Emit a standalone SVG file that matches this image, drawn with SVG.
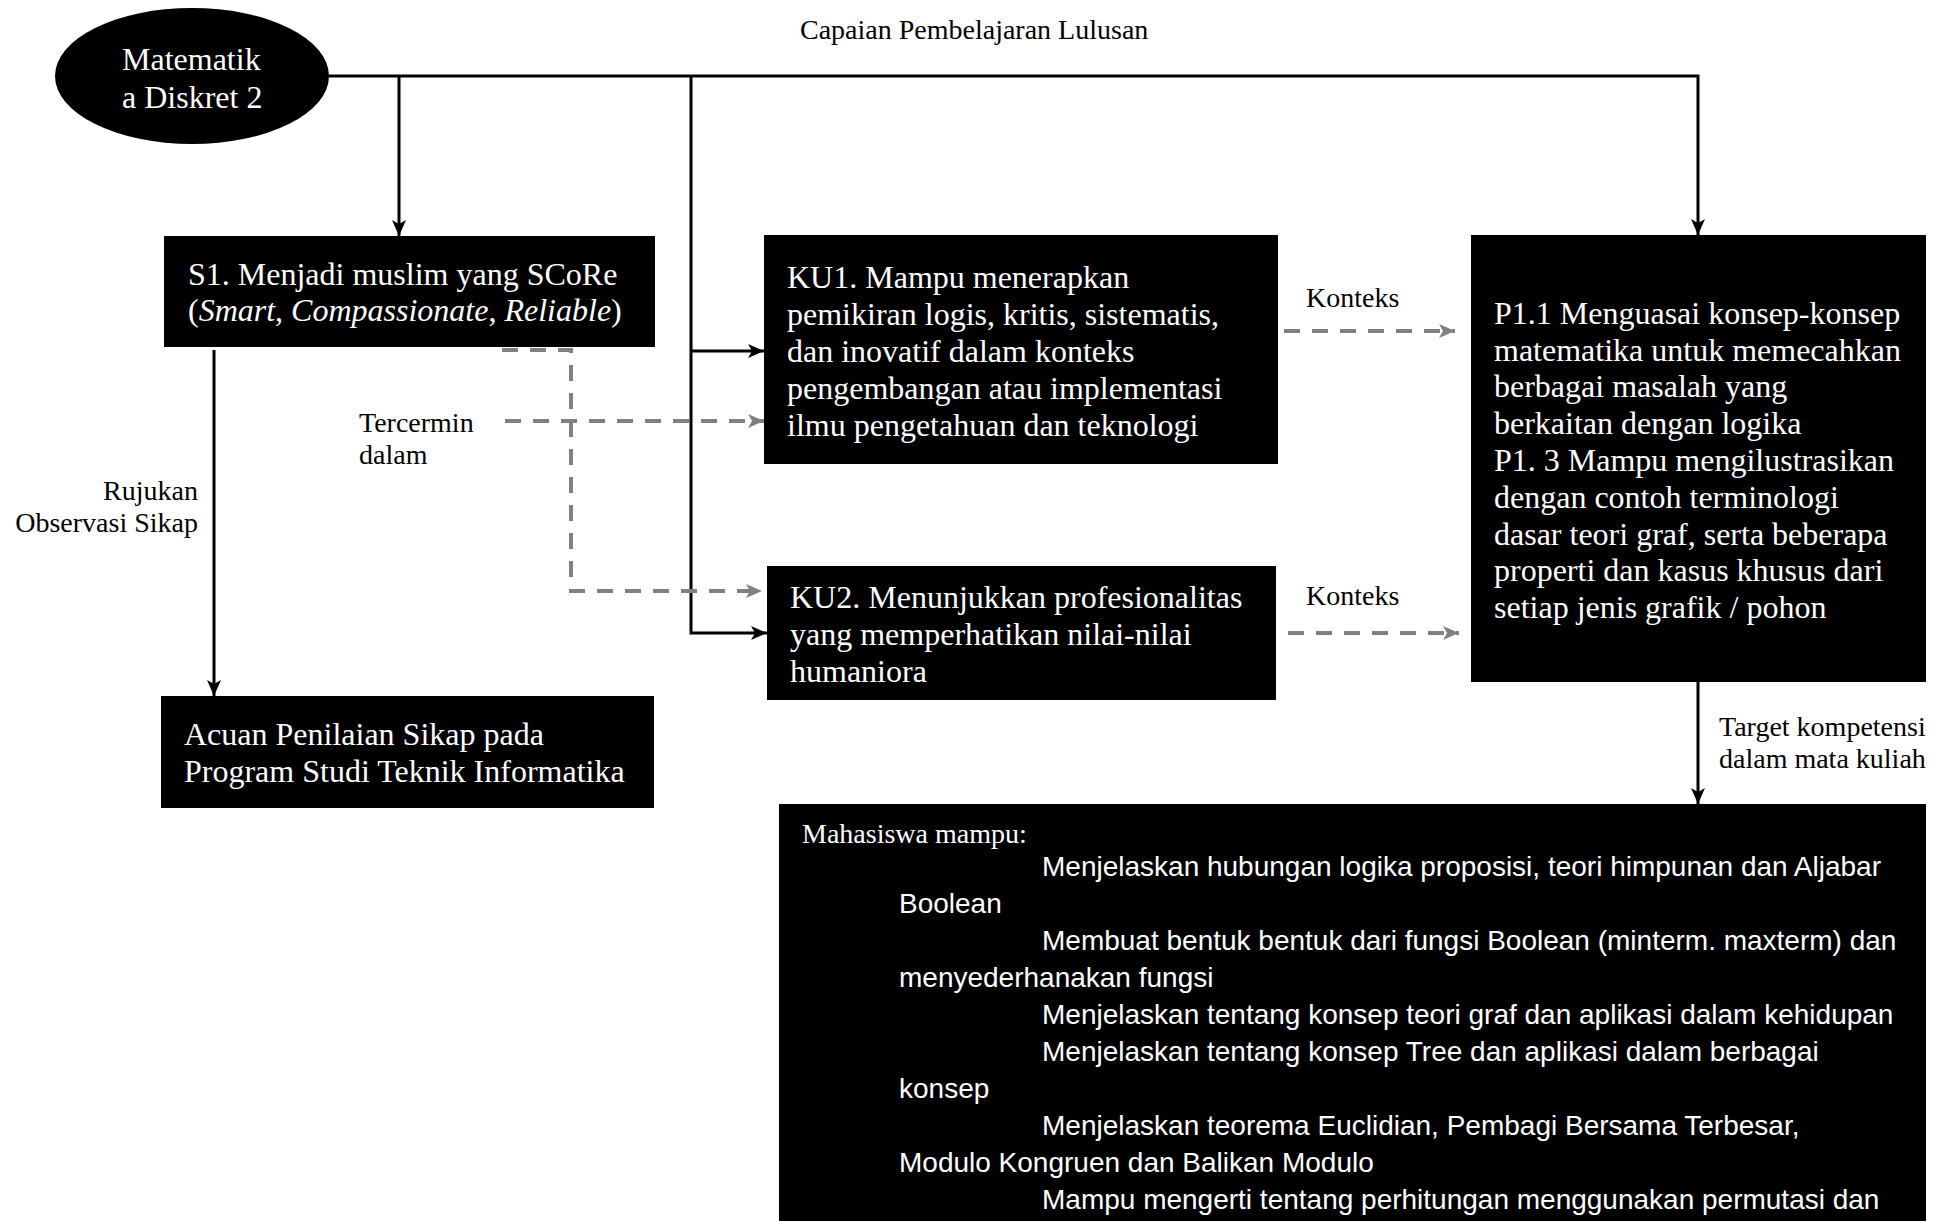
<svg xmlns="http://www.w3.org/2000/svg" width="1952" height="1221" viewBox="0 0 1952 1221">
<style>
.box{fill:#000}
.bt{font-family:"Liberation Serif","Times New Roman",serif;font-size:32px;fill:#fff}
.lbl{font-family:"Liberation Serif","Times New Roman",serif;font-size:28px;fill:#000}
.lt{font-family:"Liberation Sans",Arial,sans-serif;font-size:28px;fill:#fff}
.mh{font-family:"Liberation Serif","Times New Roman",serif;font-size:28px;fill:#fff}
.solid{fill:none;stroke:#000;stroke-width:3}
.dash{fill:none;stroke:#808080;stroke-width:4;stroke-dasharray:16 12}
</style>
<defs>
<marker id="ab" markerUnits="userSpaceOnUse" viewBox="0 0 16 14" markerWidth="16" markerHeight="14" refX="16" refY="7" orient="auto">
<path d="M0,0 L16,7 L0,14 L4,7 z" fill="#000"/>
</marker>
<marker id="ag" markerUnits="userSpaceOnUse" viewBox="0 0 16 14" markerWidth="16" markerHeight="14" refX="16" refY="7" orient="auto">
<path d="M0,0 L16,7 L0,14 L4,7 z" fill="#808080"/>
</marker>
</defs>

<g id="connectors">
<polyline class="solid" points="329,76 1698,76 1698,235" marker-end="url(#ab)"/>
<line class="solid" x1="399" y1="76" x2="399" y2="236" marker-end="url(#ab)"/>
<polyline class="solid" points="691,76 691,633 767,633" marker-end="url(#ab)"/>
<line class="solid" x1="691" y1="351" x2="764" y2="351" marker-end="url(#ab)"/>
<line class="solid" x1="214" y1="350" x2="214" y2="696" marker-end="url(#ab)"/>
<line class="solid" x1="1698" y1="682" x2="1698" y2="804" marker-end="url(#ab)"/>
<polyline class="dash" points="502,350 571,350 571,591 762,591" marker-end="url(#ag)"/>
<line class="dash" x1="505" y1="421" x2="764" y2="421" marker-end="url(#ag)"/>
<line class="dash" x1="1284" y1="331" x2="1455" y2="331" marker-end="url(#ag)"/>
<line class="dash" x1="1288" y1="633" x2="1459" y2="633" marker-end="url(#ag)"/>
<text class="lbl" x="800" y="39">Capaian Pembelajaran Lulusan</text>
<text class="lbl" x="198" y="500" text-anchor="end">Rujukan</text>
<text class="lbl" x="198" y="532" text-anchor="end">Observasi Sikap</text>
<text class="lbl" x="359" y="432">Tercermin</text>
<text class="lbl" x="359" y="464">dalam</text>
<text class="lbl" x="1306" y="307">Konteks</text>
<text class="lbl" x="1306" y="605">Konteks</text>
<text class="lbl" x="1719" y="736">Target kompetensi</text>
<text class="lbl" x="1719" y="768">dalam mata kuliah</text>
</g>

<g id="node-mk">
<ellipse class="box" cx="192" cy="76" rx="137" ry="68"/>
<text class="bt" x="122" y="70">Matematik</text>
<text class="bt" x="122" y="108">a Diskret 2</text>
</g>

<g id="node-s1">
<rect class="box" x="164" y="236" width="491" height="111"/>
<text class="bt" x="188" y="285">S1. Menjadi muslim yang SCoRe</text>
<text class="bt" x="188" y="321">(<tspan font-style="italic">Smart</tspan>, <tspan font-style="italic">Compassionate</tspan>, <tspan font-style="italic">Reliable</tspan>)</text>
</g>

<g id="node-acuan">
<rect class="box" x="161" y="696" width="493" height="112"/>
<text class="bt" x="184" y="745">Acuan Penilaian Sikap pada</text>
<text class="bt" x="184" y="782">Program Studi Teknik Informatika</text>
</g>

<g id="node-ku1">
<rect class="box" x="764" y="235" width="514" height="229"/>
<text class="bt" x="787" y="288">KU1. Mampu menerapkan</text>
<text class="bt" x="787" y="325">pemikiran logis, kritis, sistematis,</text>
<text class="bt" x="787" y="362">dan inovatif dalam konteks</text>
<text class="bt" x="787" y="399">pengembangan atau implementasi</text>
<text class="bt" x="787" y="436">ilmu pengetahuan dan teknologi</text>
</g>

<g id="node-ku2">
<rect class="box" x="767" y="566" width="509" height="134"/>
<text class="bt" x="790" y="608">KU2. Menunjukkan profesionalitas</text>
<text class="bt" x="790" y="645">yang memperhatikan nilai-nilai</text>
<text class="bt" x="790" y="682">humaniora</text>
</g>

<g id="node-p1">
<rect class="box" x="1471" y="235" width="455" height="447"/>
<text class="bt" x="1494" y="324">P1.1 Menguasai konsep-konsep</text>
<text class="bt" x="1494" y="361">matematika untuk memecahkan</text>
<text class="bt" x="1494" y="397">berbagai masalah yang</text>
<text class="bt" x="1494" y="434">berkaitan dengan logika</text>
<text class="bt" x="1494" y="471">P1. 3 Mampu mengilustrasikan</text>
<text class="bt" x="1494" y="508">dengan contoh terminologi</text>
<text class="bt" x="1494" y="545">dasar teori graf, serta beberapa</text>
<text class="bt" x="1494" y="581">properti dan kasus khusus dari</text>
<text class="bt" x="1494" y="618">setiap jenis grafik / pohon</text>
</g>

<g id="node-target">
<rect class="box" x="779" y="804" width="1147" height="420"/>
<text class="mh" x="802" y="843">Mahasiswa mampu:</text>
<text class="lt" x="1042" y="876">Menjelaskan hubungan logika proposisi, teori himpunan dan Aljabar</text>
<text class="lt" x="899" y="913">Boolean</text>
<text class="lt" x="1042" y="950">Membuat bentuk bentuk dari fungsi Boolean (minterm. maxterm) dan</text>
<text class="lt" x="899" y="987">menyederhanakan fungsi</text>
<text class="lt" x="1042" y="1024">Menjelaskan tentang konsep teori graf dan aplikasi dalam kehidupan</text>
<text class="lt" x="1042" y="1061">Menjelaskan tentang konsep Tree dan aplikasi dalam berbagai</text>
<text class="lt" x="899" y="1098">konsep</text>
<text class="lt" x="1042" y="1135">Menjelaskan teorema Euclidian, Pembagi Bersama Terbesar,</text>
<text class="lt" x="899" y="1172">Modulo Kongruen dan Balikan Modulo</text>
<text class="lt" x="1042" y="1209">Mampu mengerti tentang perhitungan menggunakan permutasi dan</text>
</g>
</svg>
